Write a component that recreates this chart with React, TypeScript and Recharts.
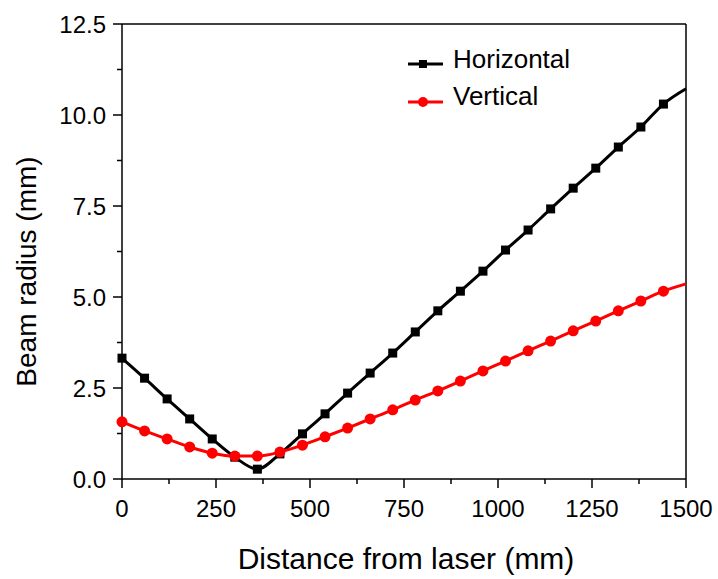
import React from "react";
import {
  LineChart,
  Line,
  XAxis,
  YAxis,
  Label,
  ReferenceLine,
} from "recharts";

// distance from laser (mm); last point is where the fitted curve leaves the frame
const distance = [
  0, 60, 120, 180, 240, 300, 360, 420, 480, 540, 600, 660, 720, 780, 840, 900,
  960, 1020, 1080, 1140, 1200, 1260, 1320, 1380, 1440, 1500,
];
const horizontal = [
  3.32, 2.77, 2.2, 1.65, 1.1, 0.6, 0.27, 0.69, 1.24, 1.79, 2.36, 2.91, 3.46,
  4.04, 4.62, 5.16, 5.71, 6.29, 6.84, 7.42, 7.99, 8.54, 9.12, 9.67, 10.3, 10.72,
];
const vertical = [
  1.57, 1.32, 1.1, 0.88, 0.71, 0.63, 0.63, 0.74, 0.93, 1.16, 1.4, 1.65, 1.9,
  2.17, 2.42, 2.69, 2.97, 3.24, 3.52, 3.79, 4.07, 4.34, 4.62, 4.89, 5.16, 5.36,
];
// points with no marker drawn (curve end at the frame edge)
const noMarkerAt = [1500];

const xTicks = [0, 125, 250, 375, 500, 625, 750, 875, 1000, 1125, 1250, 1375, 1500];
const yTicks = [0, 1.25, 2.5, 3.75, 5, 6.25, 7.5, 8.75, 10, 11.25, 12.5];

const data = distance.map((d, i) => ({
  d,
  horizontal: horizontal[i],
  vertical: vertical[i],
}));

const FONT = '"Liberation Sans", Arial, sans-serif';

const XTick = (props: any) => {
  const { x, y, payload } = props;
  const major = payload.value % 250 === 0;
  return (
    <g>
      <line x1={x} y1={y} x2={x} y2={y + (major ? 9 : 5)} stroke="#000" strokeWidth={1.5} />
      {major && (
        <text x={x} y={y + 38} textAnchor="middle" fontSize={24} fontFamily={FONT} fill="#000">
          {payload.value}
        </text>
      )}
    </g>
  );
};

const YTick = (props: any) => {
  const { x, y, payload } = props;
  const major = Math.abs(payload.value / 2.5 - Math.round(payload.value / 2.5)) < 1e-6;
  return (
    <g>
      <line x1={x} y1={y} x2={x - (major ? 9 : 5)} y2={y} stroke="#000" strokeWidth={1.5} />
      {major && (
        <text x={x - 16} y={y + 8.5} textAnchor="end" fontSize={24} fontFamily={FONT} fill="#000">
          {payload.value.toFixed(1)}
        </text>
      )}
    </g>
  );
};

const SquareDot = (props: any) => {
  const { cx, cy, payload } = props;
  if (noMarkerAt.includes(payload.d)) return <g key={`h${payload.d}`} />;
  return <rect key={`h${payload.d}`} x={cx - 4.5} y={cy - 4.5} width={9} height={9} fill="#000" />;
};

const CircleDot = (props: any) => {
  const { cx, cy, payload } = props;
  if (noMarkerAt.includes(payload.d)) return <g key={`v${payload.d}`} />;
  return <circle key={`v${payload.d}`} cx={cx} cy={cy} r={5.5} fill="#ff0000" />;
};

export default function App() {
  return (
    <div style={{ position: "absolute", left: 0, top: 0, width: 718, height: 579, background: "#fff" }}>
      <LineChart
        width={718}
        height={579}
        data={data}
        margin={{ top: 24, right: 32, left: 0, bottom: 0 }}
      >
        <XAxis
          dataKey="d"
          type="number"
          domain={[0, 1500]}
          ticks={xTicks}
          interval={0}
          height={100}
          tickSize={0}
          tickMargin={0}
          tickLine={false}
          tick={<XTick />}
          axisLine={{ stroke: "#000", strokeWidth: 1.5 }}
        >
          <Label
            content={(p: any) => {
              const vb = p.viewBox;
              return (
                <text x={vb.x + vb.width / 2 + 2} y={vb.y + 90} textAnchor="middle" fontSize={30} fontFamily={FONT} fill="#000">
                  Distance from laser (mm)
                </text>
              );
            }}
          />
        </XAxis>
        <YAxis
          type="number"
          domain={[0, 12.5]}
          ticks={yTicks}
          interval={0}
          width={122}
          tickSize={0}
          tickMargin={0}
          tickLine={false}
          tick={<YTick />}
          axisLine={{ stroke: "#000", strokeWidth: 1.5 }}
        >
          <Label
            content={(p: any) => {
              const vb = p.viewBox;
              const cy = vb.y + vb.height / 2 + 20;
              return (
                <text
                  transform={`translate(36, ${cy}) rotate(-90)`}
                  textAnchor="middle"
                  fontSize={28}
                  fontFamily={FONT}
                  fill="#000"
                >
                  Beam radius (mm)
                </text>
              );
            }}
          />
        </YAxis>
        <ReferenceLine y={12.5} stroke="#000" strokeWidth={1.5} />
        <ReferenceLine x={1500} stroke="#000" strokeWidth={1.5} />
        <Line
          dataKey="horizontal"
          type="monotone"
          stroke="#000"
          strokeWidth={3}
          dot={<SquareDot />}
          activeDot={false}
          isAnimationActive={false}
        />
        <Line
          dataKey="vertical"
          type="monotone"
          stroke="#ff0000"
          strokeWidth={3}
          dot={<CircleDot />}
          activeDot={false}
          isAnimationActive={false}
        />
      </LineChart>
      <svg width={200} height={70} style={{ position: "absolute", left: 400, top: 40 }}>
        <line x1={8} y1={24} x2={43} y2={24} stroke="#000" strokeWidth={3} />
        <rect x={19} y={20} width={8} height={8} fill="#000" />
        <text x={53} y={28} fontSize={26} fontFamily={FONT} fill="#000">Horizontal</text>
        <line x1={8} y1={62} x2={43} y2={62} stroke="#ff0000" strokeWidth={3} />
        <circle cx={23} cy={62} r={5} fill="#ff0000" />
        <text x={53} y={65} fontSize={26} fontFamily={FONT} fill="#000">Vertical</text>
      </svg>
    </div>
  );
}
